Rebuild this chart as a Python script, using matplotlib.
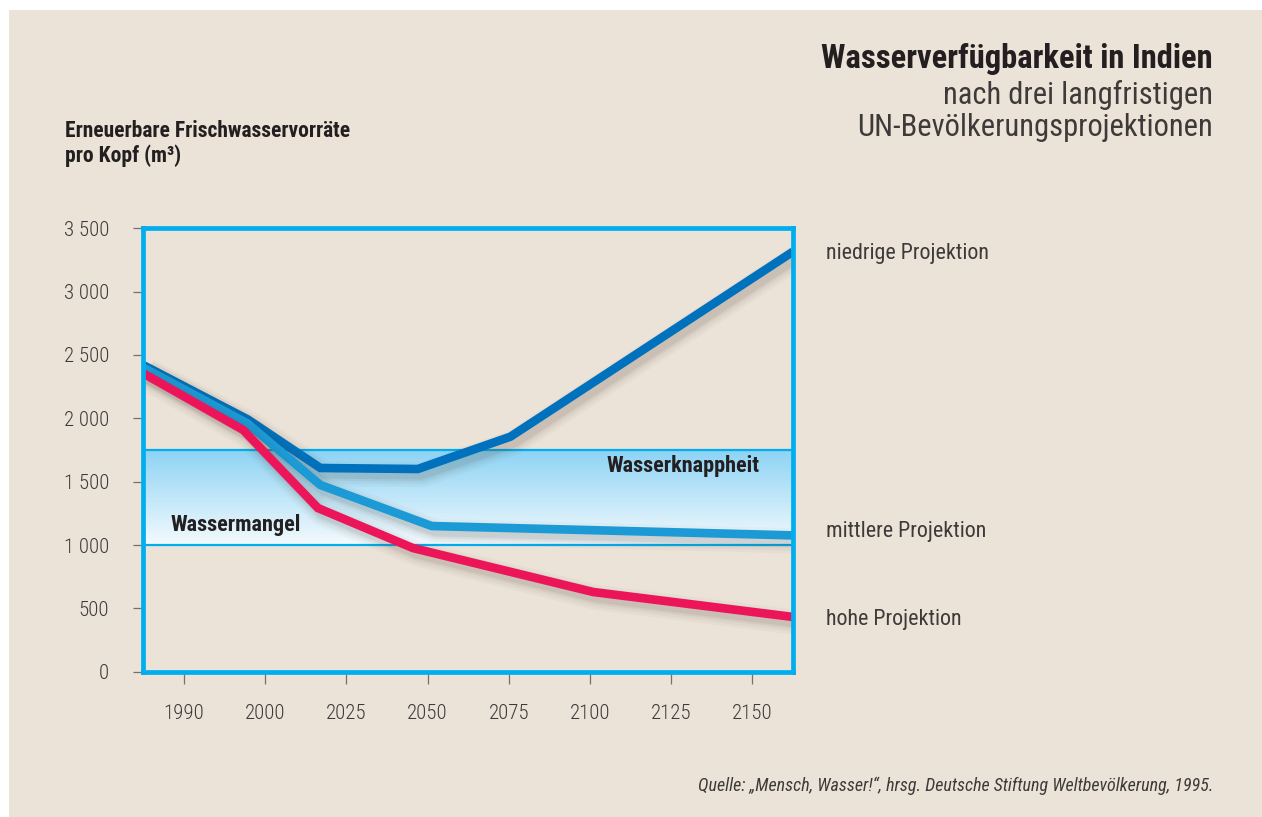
import matplotlib
matplotlib.use("Agg")
import matplotlib.pyplot as plt
import matplotlib.patheffects as pe
from matplotlib import font_manager
from matplotlib.patches import Rectangle
import numpy as np

# x values are positions on the (non-linear) year axis: 0 = 1990, 1 = 2000, 2 = 2025, ...
year_labels = ["1990", "2000", "2025", "2050", "2075", "2100", "2125", "2150"]
y_ticks = [0, 500, 1000, 1500, 2000, 2500, 3000, 3500]
y_tick_labels = ["0", "500", "1 000", "1 500", "2 000", "2 500", "3 000", "3 500"]

low_x = [-0.5, 0.79, 1.68, 2.88, 4.02, 7.5]
low_y = [2420, 1990, 1608, 1600, 1855, 3316]

mid_x = [-0.5, 0.78, 1.68, 3.05, 7.5]
mid_y = [2400, 1960, 1474, 1150, 1076]

high_x = [-0.5, 0.73, 1.65, 2.82, 5.04, 7.5]
high_y = [2355, 1908, 1292, 976, 629, 432]

band_lo, band_hi = 1000, 1750

W, H = 1262, 817
BG = "#ebe2d8"
CYAN = "#00aeef"
TXT = "#231f20"
GREY = "#3e3a39"

names = {f.name for f in font_manager.fontManager.ttflist}
prefs = ["Roboto Condensed", "Liberation Sans Narrow", "Roboto", "Liberation Sans"]
plt.rcParams["font.family"] = [n for n in prefs if n in names] + ["DejaVu Sans"]


def px(x, y):
    return x / W, 1 - y / H


fig = plt.figure(figsize=(W / 100, H / 100), dpi=100, facecolor="white")
fig.patches.append(Rectangle((9 / W, 0), 1, 1 - 10 / H, transform=fig.transFigure,
                             facecolor=BG, edgecolor="none", zorder=-10))

l, b = px(143.3, 671.7)
r, t = px(793, 228.3)
ax = fig.add_axes([l, b, r - l, t - b])
ax.set_facecolor(BG)
ax.set_xlim(-0.5, 7.5)
ax.set_ylim(0, 3500)

# gradient band
grad = np.linspace(0, 1, 256).reshape(-1, 1)
top_rgb = np.array([0x8c, 0xd3, 0xf4]) / 255
bot_rgb = np.array([0xf4, 0xfa, 0xfd]) / 255
img = bot_rgb[None, None, :] * (1 - grad[:, :, None]) + top_rgb[None, None, :] * grad[:, :, None]
ax.imshow(img, extent=[-0.5, 7.5, band_lo, band_hi], origin="lower", aspect="auto", zorder=1)
ax.axhline(band_lo, color=CYAN, lw=1.6, zorder=2)
ax.axhline(band_hi, color=CYAN, lw=1.6, zorder=2)


def shadow(lw):
    fx = []
    for k, a in [(12, 0.03), (8, 0.045), (4, 0.06), (1, 0.08)]:
        fx.append(pe.SimpleLineShadow(offset=(3, -4), shadow_color="#4a3a30",
                                      alpha=a, linewidth=lw + k))
    fx.append(pe.Normal())
    return fx


LW = 6.2
for xs, ys, col in [(low_x, low_y, "#0071bc"), (mid_x, mid_y, "#1c9ad6"), (high_x, high_y, "#ec1559")]:
    ax.plot(xs, ys, color=col, lw=LW, solid_capstyle="butt", solid_joinstyle="miter",
            zorder=3, path_effects=shadow(LW))

ax.text(-0.17, 1158, "Wassermangel", fontsize=16, fontweight="bold", color=TXT,
        va="center", ha="left", zorder=5)
ax.text(7.09, 1624, "Wasserknappheit", fontsize=16, fontweight="bold", color=TXT,
        va="center", ha="right", zorder=5)

for s in ax.spines.values():
    s.set_color(CYAN)
    s.set_linewidth(3.4)
    s.set_zorder(6)

ax.set_xticks(range(len(year_labels)))
ax.set_xticklabels(year_labels)
ax.set_yticks(y_ticks)
ax.set_yticklabels(y_tick_labels)
ax.tick_params(axis="y", length=7.5, width=0.9, color="#77706a", pad=17, labelsize=15, labelcolor=GREY)
ax.tick_params(axis="x", length=8.5, width=0.9, color="#77706a", pad=15, labelsize=15, labelcolor=GREY)
for lab in ax.get_yticklabels() + ax.get_xticklabels():
    lab.set_fontweight("light")

# right-hand series labels
for y, s in [(253, "niedrige Projektion"), (532, "mittlere Projektion"), (620, "hohe Projektion")]:
    fig.text(*px(826, y), s, fontsize=15.8, color=GREY, va="center", ha="left")

# y-axis title
fig.text(*px(65, 131), "Erneuerbare Frischwasservorräte", fontsize=15.5, fontweight="bold",
         color=TXT, va="center", ha="left")
fig.text(*px(65, 156), "pro Kopf (m\u00b3)", fontsize=15.5, fontweight="bold",
         color=TXT, va="center", ha="left")

# title block
fig.text(*px(1213, 59), "Wasserverfügbarkeit in Indien", fontsize=23.5, fontweight="bold",
         color=TXT, va="center", ha="right")
fig.text(*px(1213, 95), "nach drei langfristigen", fontsize=22, color=GREY,
         va="center", ha="right")
fig.text(*px(1213, 128), "UN-Bevölkerungsprojektionen", fontsize=22, color=GREY,
         va="center", ha="right")

fig.text(*px(1213, 786), "Quelle: \u201eMensch, Wasser!\u201c, hrsg. Deutsche Stiftung Weltbevölkerung, 1995.",
         fontsize=13, style="italic", color=GREY, va="center", ha="right")

fig.savefig("out.png", dpi=100, facecolor=fig.get_facecolor())
